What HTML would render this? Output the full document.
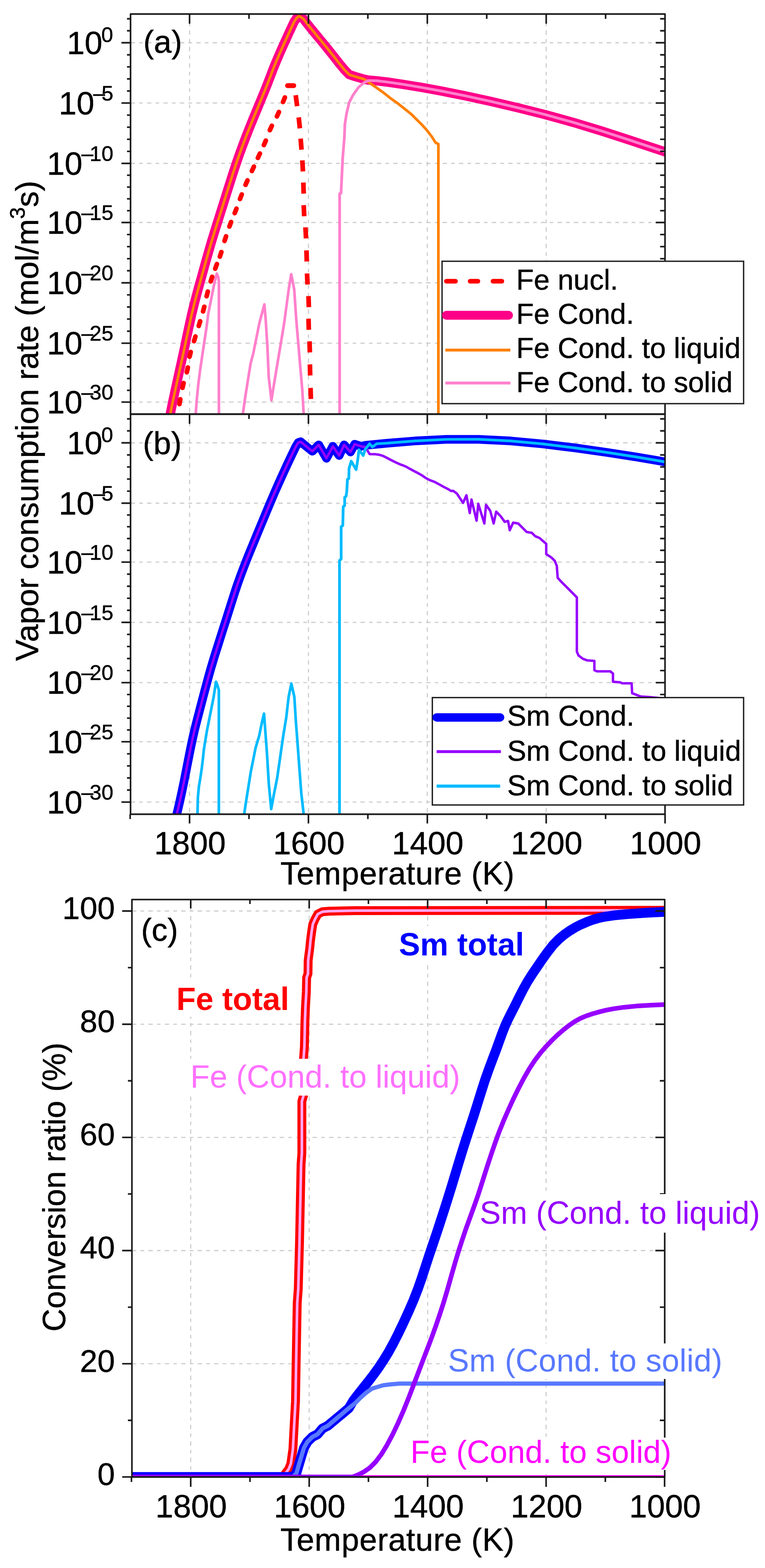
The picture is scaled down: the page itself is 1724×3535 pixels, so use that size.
<!DOCTYPE html>
<html><head><meta charset="utf-8"><title>Figure</title>
<style>html,body{margin:0;padding:0;background:#fff;}svg{display:block;}</style>
</head><body>
<svg width="1724" height="3535" viewBox="0 0 1724 3535" font-family="'Liberation Sans', Arial, Helvetica, sans-serif">
<defs>
<clipPath id="ca"><rect x="294.2" y="31.6" width="1204.5" height="902.0"/></clipPath>
<clipPath id="cb"><rect x="294.2" y="933.6" width="1204.5" height="902.0"/></clipPath>
<clipPath id="cc"><rect x="297.3" y="2028.0" width="1200.7" height="1301.9"/></clipPath>
</defs>
<rect width="1724" height="3535" fill="#fff"/>
<line x1="427.2" y1="31.6" x2="427.2" y2="933.6" stroke="#cecece" stroke-width="2.6" stroke-dasharray="10 9.5 8 9.5"/>
<line x1="695.1" y1="31.6" x2="695.1" y2="933.6" stroke="#cecece" stroke-width="2.6" stroke-dasharray="10 9.5 8 9.5"/>
<line x1="963.0" y1="31.6" x2="963.0" y2="933.6" stroke="#cecece" stroke-width="2.6" stroke-dasharray="10 9.5 8 9.5"/>
<line x1="1230.9" y1="31.6" x2="1230.9" y2="933.6" stroke="#cecece" stroke-width="2.6" stroke-dasharray="10 9.5 8 9.5"/>
<line x1="294.2" y1="96.4" x2="1498.7" y2="96.4" stroke="#cecece" stroke-width="2.6" stroke-dasharray="10 9.5 8 9.5"/>
<line x1="294.2" y1="232.3" x2="1498.7" y2="232.3" stroke="#cecece" stroke-width="2.6" stroke-dasharray="10 9.5 8 9.5"/>
<line x1="294.2" y1="368.4" x2="1498.7" y2="368.4" stroke="#cecece" stroke-width="2.6" stroke-dasharray="10 9.5 8 9.5"/>
<line x1="294.2" y1="501.6" x2="1498.7" y2="501.6" stroke="#cecece" stroke-width="2.6" stroke-dasharray="10 9.5 8 9.5"/>
<line x1="294.2" y1="637.6" x2="1498.7" y2="637.6" stroke="#cecece" stroke-width="2.6" stroke-dasharray="10 9.5 8 9.5"/>
<line x1="294.2" y1="773.8" x2="1498.7" y2="773.8" stroke="#cecece" stroke-width="2.6" stroke-dasharray="10 9.5 8 9.5"/>
<line x1="294.2" y1="906.5" x2="1498.7" y2="906.5" stroke="#cecece" stroke-width="2.6" stroke-dasharray="10 9.5 8 9.5"/>
<g clip-path="url(#ca)">
<polyline points="381.5,945.0 385.2,926.0 389.4,905.4 394.2,882.9 399.3,859.4 404.6,835.5 409.9,811.6 415.1,787.5 420.3,762.6 425.8,736.8 431.6,710.4 437.9,684.6 444.4,659.7 451.1,635.6 457.7,611.7 464.2,588.3 470.5,566.1 476.5,545.4 482.5,525.7 489.0,505.0 496.0,482.8 503.4,459.3 510.9,435.3 518.5,411.4 525.8,388.3 533.0,366.7 540.1,346.4 547.3,326.9 554.7,307.2 562.7,287.0 571.0,266.5 579.5,246.1 587.7,226.3 595.6,207.1 603.0,188.5 609.8,170.7 616.2,154.0 623.2,136.9 631.5,117.7 641.2,96.0 651.9,72.7 663.0,48.9 669.0,40.0 674.1,36.1 683.7,42.5 697.0,59.5 710.9,76.5 725.1,93.6 739.3,111.0 753.0,128.2 765.3,144.0 776.4,157.3 787.2,168.3 800.0,172.5 820.7,178.5 830.0,180.5 849.2,182.2 873.1,185.0 905.8,189.8 947.7,196.7 995.5,205.4 1047.1,215.8 1103.4,228.0 1164.2,242.2 1227.4,258.1 1291.4,275.8 1355.9,295.4 1417.9,315.5 1469.8,332.7 1510.0,346.0" fill="none" stroke="#ff0088" stroke-width="21" stroke-linejoin="round" stroke-linecap="butt" />
<polyline points="381.5,945.0 385.2,926.0 389.4,905.4 394.2,882.9 399.3,859.4 404.6,835.5 409.9,811.6 415.1,787.5 420.3,762.6 425.8,736.8 431.6,710.4 437.9,684.6 444.4,659.7 451.1,635.6 457.7,611.7 464.2,588.3 470.5,566.1 476.5,545.4 482.5,525.7 489.0,505.0 496.0,482.8 503.4,459.3 510.9,435.3 518.5,411.4 525.8,388.3 533.0,366.7 540.1,346.4 547.3,326.9 554.7,307.2 562.7,287.0 571.0,266.5 579.5,246.1 587.7,226.3 595.6,207.1 603.0,188.5 609.8,170.7 616.2,154.0 623.2,136.9 631.5,117.7 641.2,96.0 651.9,72.7 663.0,48.9 669.0,40.0 674.1,36.1 683.7,42.5 697.0,59.5 710.9,76.5 725.1,93.6 739.3,111.0 753.0,128.2 765.3,144.0 776.4,157.3 787.2,168.3 800.0,172.5 820.7,178.5 831.8,186.2 847.8,197.3 863.7,208.5 879.6,221.2 895.5,232.4 911.5,245.1 927.4,257.8 940.1,270.6 951.3,281.7 964.0,296.1 973.6,308.8 981.5,321.5 987.9,324.7 987.9,945.0" fill="none" stroke="#ff8000" stroke-width="6" stroke-linejoin="round" stroke-linecap="butt" />
<polyline points="765.4,945.0 765.4,436.5 768.5,435.3 772.2,358.3 776.0,311.0 777.2,280.0 780.7,257.7 786.8,231.4 795.2,215.0 807.9,197.0 820.0,186.5 830.3,181.5 849.2,182.2 873.1,185.0 905.8,189.8 947.7,196.7 995.5,205.4 1047.1,215.8 1103.4,228.0 1164.2,242.2 1227.4,258.1 1291.4,275.8 1355.9,295.4 1417.9,315.5 1469.8,332.7 1510.0,346.0" fill="none" stroke="#ff80cc" stroke-width="6.2" stroke-linejoin="round" stroke-linecap="butt" />
<polyline points="441.0,945.0 441.2,931.1 443.6,899.2 446.8,867.4 450.8,835.5 455.5,803.7 460.3,771.8 465.1,740.0 469.4,707.2 474.1,683.3 478.9,659.4 483.7,635.5 488.5,617.0 492.0,625.0 493.3,635.0 493.3,945.0" fill="none" stroke="#ff80cc" stroke-width="6" stroke-linejoin="round" stroke-linecap="butt" />
<polyline points="546.5,945.0 547.4,932.8 552.7,895.0 558.7,857.2 564.8,819.3 570.8,796.7 576.9,766.4 584.5,728.6 590.5,705.9 595.8,686.2 598.8,721.0 602.6,781.5 605.6,849.6 611.7,902.5 617.7,864.7 625.3,819.3 632.9,774.0 640.4,728.6 646.5,683.2 651.0,649.9 656.3,618.2 663.1,652.9 667.7,721.0 672.2,774.0 676.7,826.9 681.3,879.9 684.3,932.8 685.0,945.0" fill="none" stroke="#ff80cc" stroke-width="6" stroke-linejoin="round" stroke-linecap="butt" />
<path d="M404.4 911.0L406.4 900.2 M411.3 874.4L413.7 863.6 M420.9 839.3L423.3 828.5 M427.2 804.2L429.8 793.6 M437.2 769.2L440.4 758.6 M447.9 734.8L451.1 724.2 M457.6 702.1L460.4 691.5 M465.6 667.9L468.4 657.3 M474.8 634.4L478.2 624.0 M485.0 605.7L488.8 595.3 M495.5 578.6L498.9 568.2 M506.0 543.2L509.4 532.8 M517.0 510.8L520.8 500.4 M528.9 480.5L532.9 470.3 M540.8 448.6L544.8 438.4 M553.3 416.8L557.7 406.6 M567.6 385.6L572.2 375.6 M581.1 356.1L585.7 346.1 M594.7 327.1L599.1 316.9 M608.1 293.5L612.7 283.5 M624.0 262.5L628.6 252.5 M637.8 229.9L642.0 219.7" stroke="#ff0000" stroke-width="10.5" stroke-linecap="round" fill="none"/>
<path d="M648 193L662 193" stroke="#ff0000" stroke-width="11" stroke-linecap="round" fill="none"/>
<path d="M666.4 214.6L669.6 239.4 M673.2 264.6L675.8 289.4 M677.5 312.5L679.5 337.5 M681.3 361.5L682.7 386.5 M683.6 411.5L684.4 436.5 M684.4 462.5L685.6 487.5 M688.3 512.5L689.7 537.5 M690.6 564.5L691.4 589.5 M691.9 616.5L693.1 641.5 M695.2 667.5L696.0 692.5 M695.3 718.5L695.9 743.5 M697.5 769.5L698.3 794.5 M698.4 821.5L699.0 846.5 M699.8 874.5L700.6 899.5" stroke="#ff0000" stroke-width="10.5" stroke-linecap="butt" fill="none"/>
</g>
<line x1="427.2" y1="933.6" x2="427.2" y2="1835.6" stroke="#cecece" stroke-width="2.6" stroke-dasharray="10 9.5 8 9.5"/>
<line x1="695.1" y1="933.6" x2="695.1" y2="1835.6" stroke="#cecece" stroke-width="2.6" stroke-dasharray="10 9.5 8 9.5"/>
<line x1="963.0" y1="933.6" x2="963.0" y2="1835.6" stroke="#cecece" stroke-width="2.6" stroke-dasharray="10 9.5 8 9.5"/>
<line x1="1230.9" y1="933.6" x2="1230.9" y2="1835.6" stroke="#cecece" stroke-width="2.6" stroke-dasharray="10 9.5 8 9.5"/>
<line x1="294.2" y1="998.4" x2="1498.7" y2="998.4" stroke="#cecece" stroke-width="2.6" stroke-dasharray="10 9.5 8 9.5"/>
<line x1="294.2" y1="1134.4" x2="1498.7" y2="1134.4" stroke="#cecece" stroke-width="2.6" stroke-dasharray="10 9.5 8 9.5"/>
<line x1="294.2" y1="1267.2" x2="1498.7" y2="1267.2" stroke="#cecece" stroke-width="2.6" stroke-dasharray="10 9.5 8 9.5"/>
<line x1="294.2" y1="1403.1" x2="1498.7" y2="1403.1" stroke="#cecece" stroke-width="2.6" stroke-dasharray="10 9.5 8 9.5"/>
<line x1="294.2" y1="1539.0" x2="1498.7" y2="1539.0" stroke="#cecece" stroke-width="2.6" stroke-dasharray="10 9.5 8 9.5"/>
<line x1="294.2" y1="1672.3" x2="1498.7" y2="1672.3" stroke="#cecece" stroke-width="2.6" stroke-dasharray="10 9.5 8 9.5"/>
<line x1="294.2" y1="1808.3" x2="1498.7" y2="1808.3" stroke="#cecece" stroke-width="2.6" stroke-dasharray="10 9.5 8 9.5"/>
<g clip-path="url(#cb)">
<polyline points="396.0,1845.0 400.4,1827.4 405.0,1807.5 409.9,1785.2 414.8,1761.6 419.5,1737.6 424.2,1713.6 428.9,1689.9 433.7,1666.8 438.9,1644.1 444.7,1621.1 450.8,1597.7 457.0,1574.1 463.2,1550.6 469.4,1527.6 475.6,1505.5 481.9,1484.4 488.3,1464.0 494.7,1443.7 501.2,1423.1 508.0,1402.0 514.8,1380.5 521.7,1358.8 528.6,1337.0 535.9,1315.2 543.6,1293.9 551.5,1273.2 559.4,1253.2 567.4,1233.7 575.4,1214.3 583.4,1194.9 591.7,1175.0 600.4,1154.0 609.4,1132.4 618.8,1110.5 628.3,1089.0 637.8,1067.9 647.4,1047.2 656.9,1027.0 666.5,1007.1 672.0,998.0 677.6,995.9 687.2,1003.9 703.9,1017.3 718.2,1003.0 735.7,1033.2 750.1,1006.2 764.4,1026.9 775.5,1003.0 789.9,1018.9 799.4,1001.4 813.8,1006.2 823.3,1004.0 872.1,999.2 934.8,994.1 1006.5,990.5 1078.5,990.4 1150.8,994.1 1223.7,1000.9 1296.3,1009.8 1368.8,1020.1 1434.8,1030.4 1482.1,1038.4 1510.0,1043.5" fill="none" stroke="#0000ff" stroke-width="19.5" stroke-linejoin="round" stroke-linecap="butt" />
<polyline points="396.0,1845.0 400.4,1827.4 405.0,1807.5 409.9,1785.2 414.8,1761.6 419.5,1737.6 424.2,1713.6 428.9,1689.9 433.7,1666.8 438.9,1644.1 444.7,1621.1 450.8,1597.7 457.0,1574.1 463.2,1550.6 469.4,1527.6 475.6,1505.5 481.9,1484.4 488.3,1464.0 494.7,1443.7 501.2,1423.1 508.0,1402.0 514.8,1380.5 521.7,1358.8 528.6,1337.0 535.9,1315.2 543.6,1293.9 551.5,1273.2 559.4,1253.2 567.4,1233.7 575.4,1214.3 583.4,1194.9 591.7,1175.0 600.4,1154.0 609.4,1132.4 618.8,1110.5 628.3,1089.0 637.8,1067.9 647.4,1047.2 656.9,1027.0 666.5,1007.1 672.0,998.0 677.6,995.9 687.2,1003.9 703.9,1017.3 718.2,1003.0 735.7,1033.2 750.1,1006.2 764.4,1026.9 775.5,1003.0 789.9,1018.9 799.4,1001.4 813.8,1006.2 823.3,1007.8 832.9,1023.7 845.6,1024.1 854.8,1025.3 862.9,1027.7 871.9,1032.2 881.5,1037.2 892.0,1042.5 901.5,1046.8 909.5,1049.7 916.9,1053.1 925.2,1057.8 935.0,1063.0 944.1,1067.8 951.7,1072.2 959.9,1077.9 968.9,1082.6 978.5,1086.0 989.0,1091.7 1000.4,1097.9 1010.0,1102.7 1016.7,1107.0 1021.5,1106.6 1029.6,1112.8 1043.5,1133.8 1051.1,1116.6 1058.7,1156.7 1062.6,1126.1 1074.0,1173.9 1077.8,1135.7 1091.5,1180.3 1095.3,1138.2 1104.8,1151.6 1112.5,1180.3 1118.2,1153.5 1127.8,1163.1 1137.3,1176.4 1145.0,1174.5 1148.8,1195.5 1156.4,1178.3 1167.9,1180.3 1187.0,1199.4 1198.5,1201.3 1206.1,1208.9 1215.7,1212.7 1231.0,1226.1 1231.0,1249.1 1242.4,1256.7 1250.1,1264.3 1254.8,1275.8 1256.8,1302.6 1265.4,1312.1 1300.0,1346.7 1300.0,1469.0 1303.7,1477.7 1313.5,1485.1 1323.4,1488.8 1339.5,1490.0 1339.5,1511.0 1345.6,1513.5 1375.2,1513.5 1381.4,1518.4 1381.4,1537.0 1397.5,1538.2 1402.4,1540.6 1423.4,1540.6 1424.6,1562.9 1434.5,1566.6 1444.3,1570.3 1462.9,1571.5 1500.0,1575.0" fill="none" stroke="#9600ff" stroke-width="5.5" stroke-linejoin="round" stroke-linecap="butt" />
<polyline points="765.1,1845.0 765.1,1263.7 768.8,1260.5 768.8,1187.2 772.5,1185.1 773.5,1142.1 776.7,1140.0 776.7,1121.2 779.8,1119.1 781.4,1109.6 783.0,1080.3 786.1,1079.2 786.6,1056.2 791.5,1039.6 802.6,1058.7 805.8,1039.6 809.0,1014.1 818.5,1026.9 823.3,1012.5 832.9,1000.5 839.2,1007.8 848.8,1000.5 872.1,999.2 934.8,994.1 1006.5,990.5 1078.5,990.4 1150.8,994.1 1223.7,1000.9 1296.3,1009.8 1368.8,1020.1 1434.8,1030.4 1482.1,1038.4 1510.0,1043.5" fill="none" stroke="#00bbff" stroke-width="6.2" stroke-linejoin="round" stroke-linecap="butt" />
<polyline points="445.0,1845.0 445.1,1833.3 445.9,1798.3 448.3,1772.8 451.5,1753.7 454.6,1733.0 457.8,1705.9 459.4,1690.0 462.7,1669.4 466.7,1645.5 471.5,1621.7 476.2,1597.8 481.0,1573.9 484.0,1555.0 486.7,1537.0 490.0,1545.0 493.2,1556.0 493.2,1845.0" fill="none" stroke="#00bbff" stroke-width="6" stroke-linejoin="round" stroke-linecap="butt" />
<polyline points="550.0,1845.0 550.3,1834.9 554.4,1807.8 559.8,1773.9 565.2,1740.1 570.6,1713.0 576.0,1686.0 584.1,1658.9 589.6,1631.8 595.0,1608.8 597.7,1645.4 601.7,1699.5 605.8,1767.2 611.2,1824.0 616.6,1794.2 624.7,1753.6 631.5,1706.3 638.3,1658.9 645.0,1618.3 650.5,1570.9 656.6,1541.1 663.3,1570.9 666.7,1625.1 670.8,1679.2 674.8,1733.3 678.9,1787.5 684.3,1834.9 685.0,1845.0" fill="none" stroke="#00bbff" stroke-width="6" stroke-linejoin="round" stroke-linecap="butt" />
</g>
<line x1="429.8" y1="2028.0" x2="429.8" y2="3329.9" stroke="#cecece" stroke-width="2.6" stroke-dasharray="10 9.5 8 9.5"/>
<line x1="696.8" y1="2028.0" x2="696.8" y2="3329.9" stroke="#cecece" stroke-width="2.6" stroke-dasharray="10 9.5 8 9.5"/>
<line x1="963.7" y1="2028.0" x2="963.7" y2="3329.9" stroke="#cecece" stroke-width="2.6" stroke-dasharray="10 9.5 8 9.5"/>
<line x1="1230.7" y1="2028.0" x2="1230.7" y2="3329.9" stroke="#cecece" stroke-width="2.6" stroke-dasharray="10 9.5 8 9.5"/>
<line x1="297.3" y1="3074.5" x2="1498.0" y2="3074.5" stroke="#cecece" stroke-width="2.6" stroke-dasharray="10 9.5 8 9.5"/>
<line x1="297.3" y1="2819.4" x2="1498.0" y2="2819.4" stroke="#cecece" stroke-width="2.6" stroke-dasharray="10 9.5 8 9.5"/>
<line x1="297.3" y1="2564.2" x2="1498.0" y2="2564.2" stroke="#cecece" stroke-width="2.6" stroke-dasharray="10 9.5 8 9.5"/>
<line x1="297.3" y1="2309.1" x2="1498.0" y2="2309.1" stroke="#cecece" stroke-width="2.6" stroke-dasharray="10 9.5 8 9.5"/>
<line x1="297.3" y1="2053.9" x2="1498.0" y2="2053.9" stroke="#cecece" stroke-width="2.6" stroke-dasharray="10 9.5 8 9.5"/>
<g clip-path="url(#cc)">
<polyline points="290.0,3329.7 640.0,3329.7 643.0,3322.0 650.6,3312.0 655.4,3300.0 660.1,3267.0 663.0,3212.0 665.9,3160.0 667.4,3072.0 669.8,2938.0 672.2,2905.0 675.0,2800.0 677.0,2700.0 678.5,2625.0 680.3,2600.0 680.3,2483.0 684.0,2470.0 684.0,2388.0 686.0,2360.0 687.3,2300.0 688.5,2269.0 690.4,2236.0 691.0,2204.0 694.1,2195.0 694.5,2165.0 698.0,2138.3 699.9,2119.2 702.4,2100.1 705.0,2083.5 710.1,2072.0 716.4,2060.6 726.6,2055.5 741.9,2054.2 800.0,2053.0 1510.0,2052.3" fill="none" stroke="#ff0000" stroke-width="20" stroke-linejoin="round" stroke-linecap="butt" />
<polyline points="290.0,3329.7 640.0,3329.7 643.0,3322.0 650.6,3312.0 655.4,3300.0 660.1,3267.0 663.0,3212.0 665.9,3160.0 667.4,3072.0 669.8,2938.0 672.2,2905.0 675.0,2800.0 677.0,2700.0 678.5,2625.0 680.3,2600.0 680.3,2483.0 684.0,2470.0 684.0,2388.0 686.0,2360.0 687.3,2300.0 688.5,2269.0 690.4,2236.0 691.0,2204.0 694.1,2195.0 694.5,2165.0 698.0,2138.3 699.9,2119.2 702.4,2100.1 705.0,2083.5 710.1,2072.0 716.4,2060.6 726.6,2055.5 741.9,2054.2 800.0,2053.0 1510.0,2052.3" fill="none" stroke="#ffa6f6" stroke-width="6" stroke-linejoin="round" stroke-linecap="butt" />
<polyline points="640.0,3329.7 1510.0,3329.7" fill="none" stroke="#ff00ff" stroke-width="8" stroke-linejoin="round" stroke-linecap="butt" />
<polyline points="290.0,3329.7 660.0,3329.7 667.8,3321.5 673.5,3302.4 679.2,3283.3 685.0,3264.2 692.6,3250.8 704.1,3239.4 715.5,3233.6 727.0,3220.3 738.5,3214.5 749.9,3205.0 761.4,3195.4 772.9,3185.9 786.3,3174.4 796.0,3158.0 807.3,3143.2 818.8,3128.7 830.4,3114.1 841.9,3099.1 853.2,3083.3 864.4,3066.5 875.6,3048.2 886.7,3027.9 898.0,3005.6 909.5,2981.5 921.0,2956.4 932.0,2931.0 941.8,2905.8 950.5,2881.0 958.5,2856.4 966.6,2831.6 975.1,2806.4 983.7,2780.9 992.3,2754.7 1001.1,2727.6 1009.9,2699.8 1018.3,2672.7 1026.2,2646.5 1033.9,2620.9 1041.9,2594.7 1050.5,2567.6 1059.6,2539.8 1068.5,2512.7 1076.7,2486.5 1084.7,2460.9 1092.8,2435.5 1101.5,2410.8 1110.1,2387.9 1118.1,2367.0 1125.1,2347.5 1131.7,2329.2 1138.2,2312.7 1145.0,2297.9 1152.5,2283.0 1160.9,2266.5 1169.8,2248.5 1179.0,2230.5 1188.5,2213.5 1198.8,2197.1 1210.0,2180.6 1221.8,2163.4 1233.9,2146.4 1246.0,2130.9 1258.4,2118.1 1271.0,2107.4 1283.7,2098.5 1296.4,2090.8 1309.2,2084.3 1321.9,2078.8 1334.6,2074.0 1347.6,2070.1 1362.3,2066.8 1382.6,2063.8 1413.8,2060.8 1457.6,2057.8 1510.0,2055.0" fill="none" stroke="#0000ff" stroke-width="22" stroke-linejoin="round" stroke-linecap="butt" />
<polyline points="290.0,3329.7 660.0,3329.7 667.8,3321.5 673.5,3302.4 679.2,3283.3 685.0,3264.2 692.6,3250.8 704.1,3239.4 715.5,3233.6 727.0,3220.3 738.5,3214.5 749.9,3205.0 761.4,3195.4 772.9,3185.9 786.3,3174.4 800.0,3163.8 812.7,3151.0 825.5,3139.6 838.2,3130.6 851.0,3126.8 863.7,3123.0 880.0,3121.0 900.6,3119.2 1510.0,3119.2" fill="none" stroke="#5878ff" stroke-width="9.5" stroke-linejoin="round" stroke-linecap="butt" />
<polyline points="290.0,3329.7 795.0,3329.7 807.0,3325.0 820.3,3318.1 833.4,3309.0 846.4,3296.1 859.3,3278.9 872.1,3257.9 884.7,3234.2 897.0,3208.4 909.3,3180.3 921.5,3149.9 933.9,3117.5 946.1,3085.3 957.1,3056.5 966.4,3032.4 974.6,3010.5 982.8,2987.4 991.3,2962.5 1000.0,2935.6 1008.7,2906.3 1017.3,2875.7 1025.7,2846.4 1033.8,2819.4 1042.1,2793.8 1050.6,2768.8 1059.3,2744.7 1068.0,2720.9 1076.5,2696.8 1084.6,2671.9 1092.4,2647.1 1100.1,2623.1 1107.9,2599.6 1116.1,2575.7 1124.9,2551.6 1134.5,2527.7 1144.8,2504.0 1155.8,2479.8 1167.7,2455.4 1180.1,2431.6 1192.7,2409.6 1205.5,2390.2 1218.2,2373.5 1231.0,2358.8 1243.7,2345.5 1256.4,2333.3 1269.2,2322.1 1281.9,2312.1 1294.6,2303.4 1307.5,2296.2 1320.8,2290.5 1334.6,2285.8 1349.1,2281.6 1364.8,2277.7 1383.1,2274.1 1405.6,2270.9 1434.3,2268.1 1469.7,2265.9 1510.0,2264.4" fill="none" stroke="#9600ff" stroke-width="10.5" stroke-linejoin="round" stroke-linecap="butt" />
</g>
<rect x="294.2" y="31.6" width="1204.5" height="902.0" fill="none" stroke="#1a1a1a" stroke-width="3.6" stroke-linejoin="round"/>
<rect x="294.2" y="933.6" width="1204.5" height="902.0" fill="none" stroke="#1a1a1a" stroke-width="3.6" stroke-linejoin="round"/>
<rect x="297.3" y="2028.0" width="1200.7" height="1301.9" fill="none" stroke="#1a1a1a" stroke-width="3.6" stroke-linejoin="round"/>
<path d="M286.2 42.4L294.2 42.4 M1487.7 42.4L1498.7 42.4 M286.2 69.4L294.2 69.4 M1487.7 69.4L1498.7 69.4 M273.7 96.4L294.2 96.4 M1477.7 96.4L1498.7 96.4 M286.2 123.6L294.2 123.6 M1487.7 123.6L1498.7 123.6 M286.2 150.8L294.2 150.8 M1487.7 150.8L1498.7 150.8 M286.2 177.9L294.2 177.9 M1487.7 177.9L1498.7 177.9 M286.2 205.1L294.2 205.1 M1487.7 205.1L1498.7 205.1 M273.7 232.3L294.2 232.3 M1477.7 232.3L1498.7 232.3 M286.2 259.5L294.2 259.5 M1487.7 259.5L1498.7 259.5 M286.2 286.7L294.2 286.7 M1487.7 286.7L1498.7 286.7 M286.2 314.0L294.2 314.0 M1487.7 314.0L1498.7 314.0 M286.2 341.2L294.2 341.2 M1487.7 341.2L1498.7 341.2 M273.7 368.4L294.2 368.4 M1477.7 368.4L1498.7 368.4 M286.2 395.0L294.2 395.0 M1487.7 395.0L1498.7 395.0 M286.2 421.7L294.2 421.7 M1487.7 421.7L1498.7 421.7 M286.2 448.3L294.2 448.3 M1487.7 448.3L1498.7 448.3 M286.2 475.0L294.2 475.0 M1487.7 475.0L1498.7 475.0 M273.7 501.6L294.2 501.6 M1477.7 501.6L1498.7 501.6 M286.2 528.8L294.2 528.8 M1487.7 528.8L1498.7 528.8 M286.2 556.0L294.2 556.0 M1487.7 556.0L1498.7 556.0 M286.2 583.2L294.2 583.2 M1487.7 583.2L1498.7 583.2 M286.2 610.4L294.2 610.4 M1487.7 610.4L1498.7 610.4 M273.7 637.6L294.2 637.6 M1477.7 637.6L1498.7 637.6 M286.2 664.8L294.2 664.8 M1487.7 664.8L1498.7 664.8 M286.2 692.1L294.2 692.1 M1487.7 692.1L1498.7 692.1 M286.2 719.3L294.2 719.3 M1487.7 719.3L1498.7 719.3 M286.2 746.6L294.2 746.6 M1487.7 746.6L1498.7 746.6 M273.7 773.8L294.2 773.8 M1477.7 773.8L1498.7 773.8 M286.2 800.3L294.2 800.3 M1487.7 800.3L1498.7 800.3 M286.2 826.9L294.2 826.9 M1487.7 826.9L1498.7 826.9 M286.2 853.4L294.2 853.4 M1487.7 853.4L1498.7 853.4 M286.2 880.0L294.2 880.0 M1487.7 880.0L1498.7 880.0 M273.7 906.5L294.2 906.5 M1477.7 906.5L1498.7 906.5 M427.2 31.6L427.2 53.6 M561.1 31.6L561.1 42.6 M695.1 31.6L695.1 53.6 M829.0 31.6L829.0 42.6 M963.0 31.6L963.0 53.6 M1096.9 31.6L1096.9 42.6 M1230.9 31.6L1230.9 53.6 M1364.8 31.6L1364.8 42.6 M286.2 944.4L294.2 944.4 M1487.7 944.4L1498.7 944.4 M286.2 971.4L294.2 971.4 M1487.7 971.4L1498.7 971.4 M273.7 998.4L294.2 998.4 M1477.7 998.4L1498.7 998.4 M286.2 1025.6L294.2 1025.6 M1487.7 1025.6L1498.7 1025.6 M286.2 1052.8L294.2 1052.8 M1487.7 1052.8L1498.7 1052.8 M286.2 1080.0L294.2 1080.0 M1487.7 1080.0L1498.7 1080.0 M286.2 1107.2L294.2 1107.2 M1487.7 1107.2L1498.7 1107.2 M273.7 1134.4L294.2 1134.4 M1477.7 1134.4L1498.7 1134.4 M286.2 1161.0L294.2 1161.0 M1487.7 1161.0L1498.7 1161.0 M286.2 1187.5L294.2 1187.5 M1487.7 1187.5L1498.7 1187.5 M286.2 1214.1L294.2 1214.1 M1487.7 1214.1L1498.7 1214.1 M286.2 1240.6L294.2 1240.6 M1487.7 1240.6L1498.7 1240.6 M273.7 1267.2L294.2 1267.2 M1477.7 1267.2L1498.7 1267.2 M286.2 1294.4L294.2 1294.4 M1487.7 1294.4L1498.7 1294.4 M286.2 1321.6L294.2 1321.6 M1487.7 1321.6L1498.7 1321.6 M286.2 1348.7L294.2 1348.7 M1487.7 1348.7L1498.7 1348.7 M286.2 1375.9L294.2 1375.9 M1487.7 1375.9L1498.7 1375.9 M273.7 1403.1L294.2 1403.1 M1477.7 1403.1L1498.7 1403.1 M286.2 1430.3L294.2 1430.3 M1487.7 1430.3L1498.7 1430.3 M286.2 1457.5L294.2 1457.5 M1487.7 1457.5L1498.7 1457.5 M286.2 1484.6L294.2 1484.6 M1487.7 1484.6L1498.7 1484.6 M286.2 1511.8L294.2 1511.8 M1487.7 1511.8L1498.7 1511.8 M273.7 1539.0L294.2 1539.0 M1477.7 1539.0L1498.7 1539.0 M286.2 1565.7L294.2 1565.7 M1487.7 1565.7L1498.7 1565.7 M286.2 1592.3L294.2 1592.3 M1487.7 1592.3L1498.7 1592.3 M286.2 1619.0L294.2 1619.0 M1487.7 1619.0L1498.7 1619.0 M286.2 1645.6L294.2 1645.6 M1487.7 1645.6L1498.7 1645.6 M273.7 1672.3L294.2 1672.3 M1477.7 1672.3L1498.7 1672.3 M286.2 1699.5L294.2 1699.5 M1487.7 1699.5L1498.7 1699.5 M286.2 1726.7L294.2 1726.7 M1487.7 1726.7L1498.7 1726.7 M286.2 1753.9L294.2 1753.9 M1487.7 1753.9L1498.7 1753.9 M286.2 1781.1L294.2 1781.1 M1487.7 1781.1L1498.7 1781.1 M273.7 1808.3L294.2 1808.3 M1477.7 1808.3L1498.7 1808.3 M427.2 933.6L427.2 955.6 M561.1 933.6L561.1 944.6 M695.1 933.6L695.1 955.6 M829.0 933.6L829.0 944.6 M963.0 933.6L963.0 955.6 M1096.9 933.6L1096.9 944.6 M1230.9 933.6L1230.9 955.6 M1364.8 933.6L1364.8 944.6 M293.3 1835.6L293.3 1846.6 M427.2 1835.6L427.2 1856.6 M561.1 1835.6L561.1 1846.6 M695.1 1835.6L695.1 1856.6 M829.0 1835.6L829.0 1846.6 M963.0 1835.6L963.0 1856.6 M1096.9 1835.6L1096.9 1846.6 M1230.9 1835.6L1230.9 1856.6 M1364.8 1835.6L1364.8 1846.6 M1498.8 1835.6L1498.8 1856.6 M275.3 3329.7L297.3 3329.7 M1477.0 3329.7L1498.0 3329.7 M288.3 3202.1L297.3 3202.1 M1487.0 3202.1L1498.0 3202.1 M275.3 3074.5L297.3 3074.5 M1477.0 3074.5L1498.0 3074.5 M288.3 2947.0L297.3 2947.0 M1487.0 2947.0L1498.0 2947.0 M275.3 2819.4L297.3 2819.4 M1477.0 2819.4L1498.0 2819.4 M288.3 2691.8L297.3 2691.8 M1487.0 2691.8L1498.0 2691.8 M275.3 2564.2L297.3 2564.2 M1477.0 2564.2L1498.0 2564.2 M288.3 2436.6L297.3 2436.6 M1487.0 2436.6L1498.0 2436.6 M275.3 2309.1L297.3 2309.1 M1477.0 2309.1L1498.0 2309.1 M288.3 2181.5L297.3 2181.5 M1487.0 2181.5L1498.0 2181.5 M275.3 2053.9L297.3 2053.9 M1477.0 2053.9L1498.0 2053.9 M296.3 3329.9L296.3 3340.9 M429.8 3329.9L429.8 3351.9 M429.8 2028.0L429.8 2048.0 M563.3 3329.9L563.3 3340.9 M563.3 2028.0L563.3 2038.0 M696.8 3329.9L696.8 3351.9 M696.8 2028.0L696.8 2048.0 M830.3 3329.9L830.3 3340.9 M830.3 2028.0L830.3 2038.0 M963.7 3329.9L963.7 3351.9 M963.7 2028.0L963.7 2048.0 M1097.2 3329.9L1097.2 3340.9 M1097.2 2028.0L1097.2 2038.0 M1230.7 3329.9L1230.7 3351.9 M1230.7 2028.0L1230.7 2048.0 M1364.2 3329.9L1364.2 3340.9 M1364.2 2028.0L1364.2 2038.0 M1497.7 3329.9L1497.7 3351.9" stroke="#1a1a1a" stroke-width="3.6" fill="none"/>
<rect x="996.2" y="589" width="679.6" height="321" fill="#fff" stroke="#1a1a1a" stroke-width="3"/>
<path d="M1006 634L1026.5 634M1059.5 634L1077 634M1111 634L1131 634" stroke="#ff0000" stroke-width="10.5" stroke-linecap="round" fill="none"/>
<line x1="1006" y1="710.8" x2="1146" y2="710.8" stroke="#ff0088" stroke-width="20" stroke-linecap="round"/>
<line x1="1003.6" y1="789.2" x2="1150.2" y2="789.2" stroke="#ff8000" stroke-width="6.5"/>
<line x1="1003.6" y1="863.5" x2="1150.2" y2="863.5" stroke="#ff80cc" stroke-width="6.5"/>
<text x="1163.5" y="652.6" font-size="64.5" text-anchor="start" fill="#000" stroke="#000" stroke-width="0.6" font-weight="normal" >Fe nucl.</text>
<text x="1163.5" y="729.8" font-size="64.5" text-anchor="start" fill="#000" stroke="#000" stroke-width="0.6" font-weight="normal" >Fe Cond.</text>
<text x="1163.5" y="807.0" font-size="64.5" text-anchor="start" fill="#000" stroke="#000" stroke-width="0.6" font-weight="normal" >Fe Cond. to liquid</text>
<text x="1163.5" y="884.2" font-size="64.5" text-anchor="start" fill="#000" stroke="#000" stroke-width="0.6" font-weight="normal" >Fe Cond. to solid</text>
<rect x="974.3" y="1572.7" width="701.5" height="242.1" fill="#fff" stroke="#1a1a1a" stroke-width="3"/>
<line x1="984" y1="1617.4" x2="1127" y2="1617.4" stroke="#0000ff" stroke-width="19" stroke-linecap="round"/>
<line x1="983.9" y1="1694.4" x2="1128.8" y2="1694.4" stroke="#9600ff" stroke-width="6.5"/>
<line x1="983.9" y1="1772.3" x2="1127.2" y2="1772.3" stroke="#00bbff" stroke-width="7"/>
<text x="1143.0" y="1636.4" font-size="64.5" text-anchor="start" fill="#000" stroke="#000" stroke-width="0.6" font-weight="normal" >Sm Cond.</text>
<text x="1143.0" y="1714.5" font-size="64.5" text-anchor="start" fill="#000" stroke="#000" stroke-width="0.6" font-weight="normal" >Sm Cond. to liquid</text>
<text x="1143.0" y="1792.5" font-size="64.5" text-anchor="start" fill="#000" stroke="#000" stroke-width="0.6" font-weight="normal" >Sm Cond. to solid</text>
<text x="323.0" y="118.6" font-size="71.5" text-anchor="start" fill="#000" stroke="#000" stroke-width="0.6" font-weight="normal" >(a)</text>
<text x="322.0" y="1023.6" font-size="71.5" text-anchor="start" fill="#000" stroke="#000" stroke-width="0.6" font-weight="normal" >(b)</text>
<text x="318.0" y="2120.5" font-size="71.5" text-anchor="start" fill="#000" stroke="#000" stroke-width="0.6" font-weight="normal" >(c)</text>
<text x="255" y="121.8" font-size="72" text-anchor="end" stroke="#000" stroke-width="0.6">10<tspan font-size="48" dy="-26.5" dx="-2.5">0</tspan></text>
<text x="255" y="1023.8" font-size="72" text-anchor="end" stroke="#000" stroke-width="0.6">10<tspan font-size="48" dy="-26.5" dx="-2.5">0</tspan></text>
<text x="255.5" y="257.7" font-size="72" text-anchor="end" stroke="#000" stroke-width="0.6">10<tspan font-size="48" dy="-31" dx="-2.5">–</tspan><tspan font-size="48" dx="-8">5</tspan></text>
<text x="255.5" y="1159.8" font-size="72" text-anchor="end" stroke="#000" stroke-width="0.6">10<tspan font-size="48" dy="-31" dx="-2.5">–</tspan><tspan font-size="48" dx="-8">5</tspan></text>
<text x="255.5" y="393.8" font-size="72" text-anchor="end" stroke="#000" stroke-width="0.6">10<tspan font-size="48" dy="-31" dx="-2.5">–</tspan><tspan font-size="48" dx="-8">10</tspan></text>
<text x="255.5" y="1292.6" font-size="72" text-anchor="end" stroke="#000" stroke-width="0.6">10<tspan font-size="48" dy="-31" dx="-2.5">–</tspan><tspan font-size="48" dx="-8">10</tspan></text>
<text x="255.5" y="527.0" font-size="72" text-anchor="end" stroke="#000" stroke-width="0.6">10<tspan font-size="48" dy="-31" dx="-2.5">–</tspan><tspan font-size="48" dx="-8">15</tspan></text>
<text x="255.5" y="1428.5" font-size="72" text-anchor="end" stroke="#000" stroke-width="0.6">10<tspan font-size="48" dy="-31" dx="-2.5">–</tspan><tspan font-size="48" dx="-8">15</tspan></text>
<text x="255.5" y="663.0" font-size="72" text-anchor="end" stroke="#000" stroke-width="0.6">10<tspan font-size="48" dy="-31" dx="-2.5">–</tspan><tspan font-size="48" dx="-8">20</tspan></text>
<text x="255.5" y="1564.4" font-size="72" text-anchor="end" stroke="#000" stroke-width="0.6">10<tspan font-size="48" dy="-31" dx="-2.5">–</tspan><tspan font-size="48" dx="-8">20</tspan></text>
<text x="255.5" y="799.2" font-size="72" text-anchor="end" stroke="#000" stroke-width="0.6">10<tspan font-size="48" dy="-31" dx="-2.5">–</tspan><tspan font-size="48" dx="-8">25</tspan></text>
<text x="255.5" y="1697.7" font-size="72" text-anchor="end" stroke="#000" stroke-width="0.6">10<tspan font-size="48" dy="-31" dx="-2.5">–</tspan><tspan font-size="48" dx="-8">25</tspan></text>
<text x="255.5" y="931.9" font-size="72" text-anchor="end" stroke="#000" stroke-width="0.6">10<tspan font-size="48" dy="-31" dx="-2.5">–</tspan><tspan font-size="48" dx="-8">30</tspan></text>
<text x="255.5" y="1833.7" font-size="72" text-anchor="end" stroke="#000" stroke-width="0.6">10<tspan font-size="48" dy="-31" dx="-2.5">–</tspan><tspan font-size="48" dx="-8">30</tspan></text>
<text x="428.2" y="1926.2" font-size="72.5" text-anchor="middle" fill="#000" stroke="#000" stroke-width="0.6" font-weight="normal" >1800</text>
<text x="430.8" y="3420.8" font-size="72.5" text-anchor="middle" fill="#000" stroke="#000" stroke-width="0.6" font-weight="normal" >1800</text>
<text x="696.1" y="1926.2" font-size="72.5" text-anchor="middle" fill="#000" stroke="#000" stroke-width="0.6" font-weight="normal" >1600</text>
<text x="697.8" y="3420.8" font-size="72.5" text-anchor="middle" fill="#000" stroke="#000" stroke-width="0.6" font-weight="normal" >1600</text>
<text x="964.0" y="1926.2" font-size="72.5" text-anchor="middle" fill="#000" stroke="#000" stroke-width="0.6" font-weight="normal" >1400</text>
<text x="964.7" y="3420.8" font-size="72.5" text-anchor="middle" fill="#000" stroke="#000" stroke-width="0.6" font-weight="normal" >1400</text>
<text x="1231.9" y="1926.2" font-size="72.5" text-anchor="middle" fill="#000" stroke="#000" stroke-width="0.6" font-weight="normal" >1200</text>
<text x="1231.7" y="3420.8" font-size="72.5" text-anchor="middle" fill="#000" stroke="#000" stroke-width="0.6" font-weight="normal" >1200</text>
<text x="1499.8" y="1926.2" font-size="72.5" text-anchor="middle" fill="#000" stroke="#000" stroke-width="0.6" font-weight="normal" >1000</text>
<text x="1498.7" y="3420.8" font-size="72.5" text-anchor="middle" fill="#000" stroke="#000" stroke-width="0.6" font-weight="normal" >1000</text>
<text x="896.0" y="1994.0" font-size="71.5" text-anchor="middle" fill="#000" stroke="#000" stroke-width="0.6" font-weight="normal" letter-spacing="0.75">Temperature (K)</text>
<text x="896.0" y="3495.6" font-size="71.5" text-anchor="middle" fill="#000" stroke="#000" stroke-width="0.6" font-weight="normal" letter-spacing="0.75">Temperature (K)</text>
<text transform="translate(85.5,1490) rotate(-90)" font-size="71.8" stroke="#000" stroke-width="0.6">Vapor consumption rate (mol/m<tspan font-size="48" dy="-30">3</tspan><tspan dy="30">s)</tspan></text>
<text transform="translate(146.5,3002) rotate(-90)" font-size="71.5" stroke="#000" stroke-width="0.6">Conversion ratio (%)</text>
<text x="259.0" y="3347.7" font-size="71" text-anchor="end" fill="#000" stroke="#000" stroke-width="0.6" font-weight="normal" >0</text>
<text x="259.0" y="3092.5" font-size="71" text-anchor="end" fill="#000" stroke="#000" stroke-width="0.6" font-weight="normal" >20</text>
<text x="259.0" y="2837.4" font-size="71" text-anchor="end" fill="#000" stroke="#000" stroke-width="0.6" font-weight="normal" >40</text>
<text x="259.0" y="2582.2" font-size="71" text-anchor="end" fill="#000" stroke="#000" stroke-width="0.6" font-weight="normal" >60</text>
<text x="259.0" y="2327.1" font-size="71" text-anchor="end" fill="#000" stroke="#000" stroke-width="0.6" font-weight="normal" >80</text>
<text x="259.0" y="2071.9" font-size="71" text-anchor="end" fill="#000" stroke="#000" stroke-width="0.6" font-weight="normal" >100</text>
<rect x="395.0" y="2210.0" width="261.0" height="82.0" fill="#fff"/>
<text x="397.5" y="2276.8" font-size="71.5" text-anchor="start" fill="#ff0000" stroke="#ff0000" stroke-width="0" font-weight="bold" >Fe total</text>
<rect x="897.0" y="2088.0" width="289.0" height="82.0" fill="#fff"/>
<text x="899.0" y="2153.6" font-size="71.5" text-anchor="start" fill="#0000ff" stroke="#0000ff" stroke-width="0" font-weight="bold" >Sm total</text>
<rect x="425.0" y="2387.0" width="617.0" height="83.0" fill="#fff"/>
<text x="429.0" y="2452.3" font-size="71.5" text-anchor="start" fill="#ff70ff" stroke="#ff70ff" stroke-width="0" font-weight="normal" >Fe (Cond. to liquid)</text>
<rect x="1084.0" y="2692.0" width="632.0" height="87.0" fill="#fff"/>
<text x="1081.0" y="2759.4" font-size="71.5" text-anchor="start" fill="#9600ff" stroke="#9600ff" stroke-width="0" font-weight="normal" >Sm (Cond. to liquid)</text>
<rect x="1004.0" y="3028.7" width="628.0" height="80.1" fill="#fff"/>
<text x="1009.5" y="3091.6" font-size="71.5" text-anchor="start" fill="#5878ff" stroke="#5878ff" stroke-width="0" font-weight="normal" letter-spacing="0.35">Sm (Cond. to solid)</text>
<rect x="920.0" y="3241.0" width="597.0" height="73.0" fill="#fff"/>
<text x="925.0" y="3298.0" font-size="71.5" text-anchor="start" fill="#ff00ff" stroke="#ff00ff" stroke-width="0" font-weight="normal" >Fe (Cond. to solid)</text>
</svg>
</body></html>
